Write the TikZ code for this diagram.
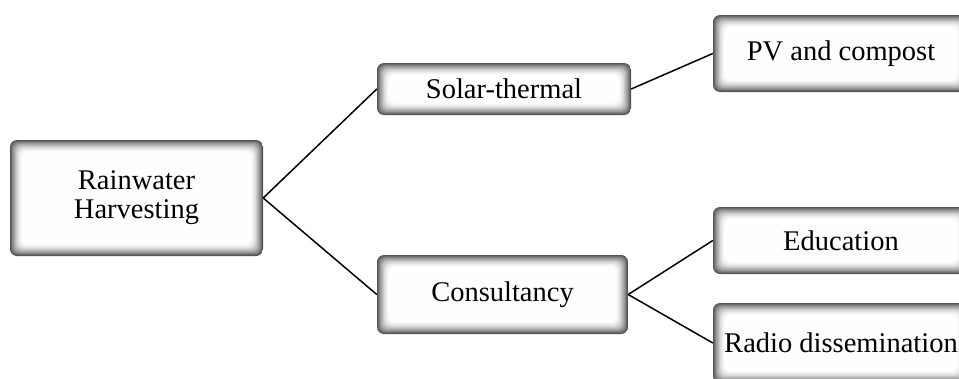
\documentclass[tikz,border=0pt]{standalone}
\usepackage{fontspec}
\setmainfont{Liberation Serif}
\begin{document}
\begin{tikzpicture}[x=1pt,y=-1pt,
  glowbox/.style={rounded corners=7pt, fill=white, inner sep=0pt, align=center,
    font=\fontsize{28.5}{29}\selectfont,
    path picture={
      \foreach \i in {0,...,15}{
        \pgfmathsetmacro{\shade}{68*(1-\i/16)^1.8}
        \fill[black!\shade, rounded corners=6.5pt]
          ([xshift=\i*0.8pt, yshift=-\i*0.8pt]path picture bounding box.north west)
          rectangle
          ([xshift=-\i*0.8pt, yshift=\i*0.8pt]path picture bounding box.south east);
      }
    }},
  link/.style={line width=1.5pt, black}]
\useasboundingbox (0,0) rectangle (959,378);
\clip (0,0) rectangle (959,378);
\node[glowbox, minimum width=253pt, minimum height=116pt] (rain) at (136.5,198) {Rainwater\\Harvesting};
\node[glowbox, minimum width=254pt, minimum height=52pt] (solar) at (504,89) {Solar-thermal};
\node[glowbox, minimum width=251pt, minimum height=79pt] (cons) at (502.5,294.5) {Consultancy};
\node[glowbox, minimum width=256pt, minimum height=77pt] (pv) at (841,53.5) {PV and compost};
\node[glowbox, minimum width=256pt, minimum height=67pt] (edu) at (841,240.5) {Education};
\node[glowbox, minimum width=256pt, minimum height=80pt] (radio) at (841,343) {Radio dissemination};
\draw[link] (rain.east) -- (solar.west);
\draw[link] (rain.east) -- (cons.west);
\draw[link] (solar.east) -- (pv.west);
\draw[link] (cons.east) -- (edu.west);
\draw[link] (cons.east) -- (radio.west);
\end{tikzpicture}
\end{document}
